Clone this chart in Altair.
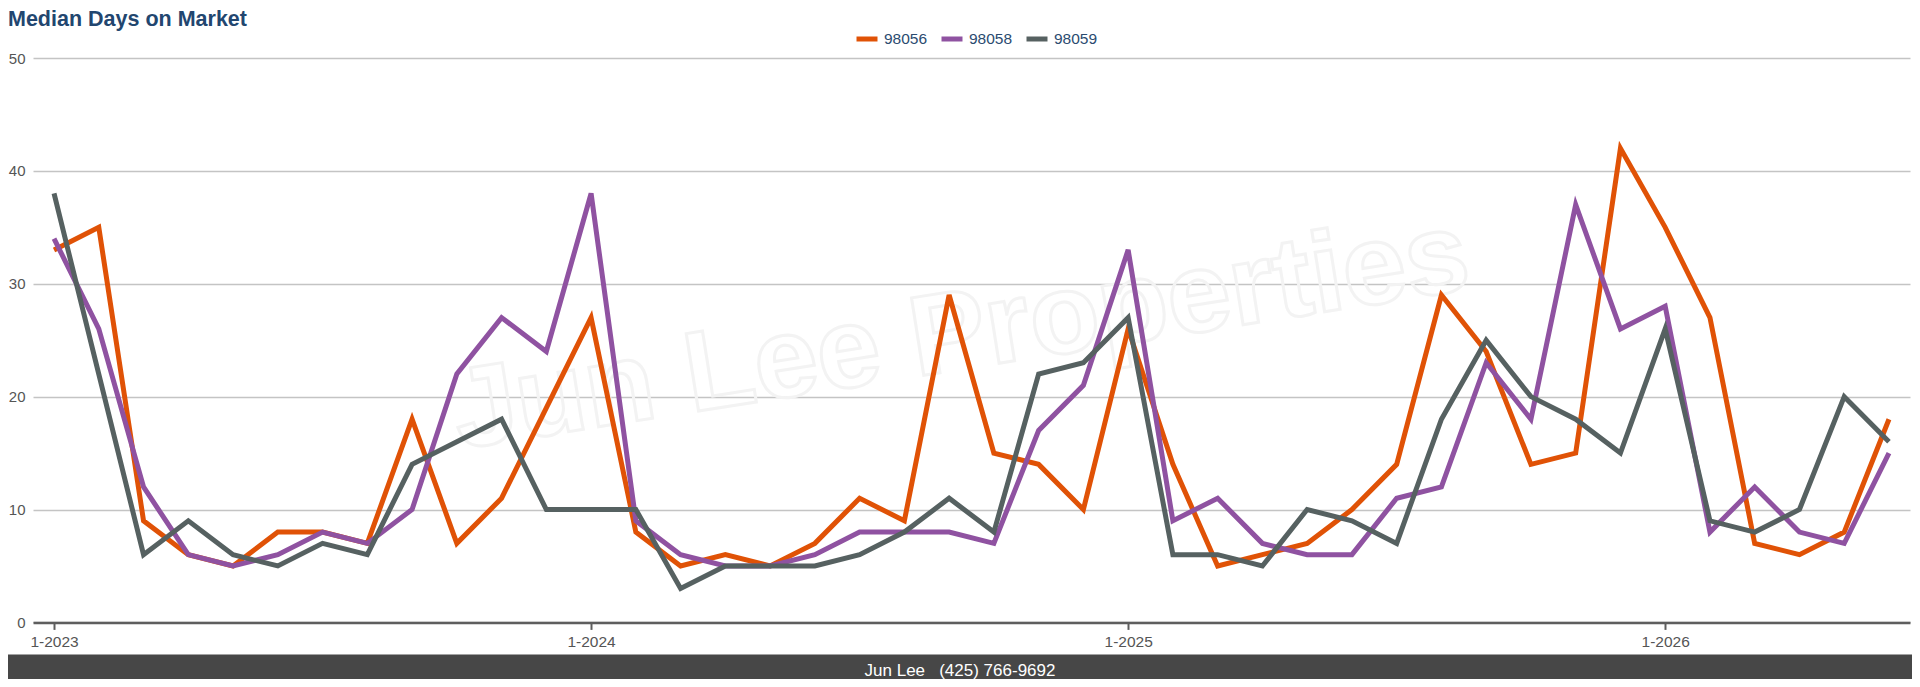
import altair as alt
import pandas as pd

# ---- data ----
months = [
    "1-2023", "2-2023", "3-2023", "4-2023", "5-2023", "6-2023", "7-2023", "8-2023", "9-2023", "10-2023", "11-2023", "12-2023",
    "1-2024", "2-2024", "3-2024", "4-2024", "5-2024", "6-2024", "7-2024", "8-2024", "9-2024", "10-2024", "11-2024", "12-2024",
    "1-2025", "2-2025", "3-2025", "4-2025", "5-2025", "6-2025", "7-2025", "8-2025", "9-2025", "10-2025", "11-2025", "12-2025",
    "1-2026", "2-2026", "3-2026", "4-2026", "5-2026", "6-2026",
]
zips = ["98056", "98058", "98059"]
days_98056 = [33, 35, 9, 6, 5, 8, 8, 7, 18, 7, 11, 19,
              27, 8, 5, 6, 5, 7, 11, 9, 29, 15, 14, 10,
              26, 14, 5, 6, 7, 10, 14, 29, 24, 14, 15, 42,
              35, 27, 7, 6, 8, 18]
days_98058 = [34, 26, 12, 6, 5, 6, 8, 7, 10, 22, 27, 24,
              38, 9, 6, 5, 5, 6, 8, 8, 8, 7, 17, 21,
              33, 9, 11, 7, 6, 6, 11, 12, 23, 18, 37, 26,
              28, 8, 12, 8, 7, 15]
days_98059 = [38, 22, 6, 9, 6, 5, 7, 6, 14, 16, 18, 10,
              10, 10, 3, 5, 5, 5, 6, 8, 11, 8, 22, 23,
              27, 6, 6, 5, 10, 9, 7, 18, 25, 20, 18, 15,
              26, 9, 8, 10, 20, 16]
year_ticks = ["1-2023", "1-2024", "1-2025", "1-2026"]
y_ticks = [0, 10, 20, 30, 40, 50]
colors = ["#e05206", "#8f52a1", "#566161"]

rows = []
for z, series in zip(zips, [days_98056, days_98058, days_98059]):
    for m, v in zip(months, series):
        rows.append({"month": m, "zip": z, "days": v})
df = pd.DataFrame(rows)

FONT = "Liberation Sans"
W, H = 1877, 564.4

lines = alt.Chart(df).mark_line(strokeWidth=5, strokeJoin="miter", strokeCap="butt").encode(
    x=alt.X("month:O", sort=months,
            scale=alt.Scale(type="point", padding=0.47),
            axis=alt.Axis(values=year_ticks, title=None, labelAngle=0, grid=False,
                          domain=True, domainColor="#5e5e5e", domainWidth=2.5,
                          ticks=True, tickColor="#5e5e5e", tickWidth=2, tickSize=7,
                          labelPadding=5, labelFontSize=15.5, labelColor="#555555",
                          labelFont=FONT)),
    y=alt.Y("days:Q", scale=alt.Scale(domain=[0, 50], nice=False),
            axis=alt.Axis(values=y_ticks, title=None, domain=False, ticks=False,
                          labelPadding=8, labelFontSize=15, labelColor="#555555",
                          labelFont=FONT, grid=True, gridColor="#c4c4c4", gridWidth=1.5)),
    color=alt.Color("zip:N", scale=alt.Scale(domain=zips, range=colors),
                    legend=alt.Legend(title=None, orient="none", direction="horizontal",
                                      legendX=821, legendY=-32, symbolType="stroke",
                                      symbolSize=441, symbolStrokeWidth=5,
                                      labelFontSize=15.5, labelFont=FONT, labelColor="#2b4b70",
                                      labelOffset=4, columnPadding=3, padding=0)),
)

watermark = alt.Chart(pd.DataFrame({"t": ["Jun Lee Properties"]})).mark_text(
    angle=351, fontSize=114, font=FONT, fontWeight="bold", fill="#ffffff", fillOpacity=0,
    stroke="#f3f3f3", strokeWidth=3, align="center", baseline="middle"
).encode(x=alt.value(928), y=alt.value(277), text="t:N")

title = alt.Chart(pd.DataFrame({"t": ["Median Days on Market"]})).mark_text(
    fontSize=21.5, font=FONT, fontWeight="bold", color="#22466f",
    align="left", baseline="alphabetic"
).encode(x=alt.value(-25), y=alt.value(-32.5), text="t:N")

footer_bar = alt.Chart(pd.DataFrame({"t": [1]})).mark_rect(color="#474747").encode(
    x=alt.value(-25), x2=alt.value(1879), y=alt.value(596.4), y2=alt.value(630)
)
footer_text = alt.Chart(pd.DataFrame({"t": ["Jun Lee\u00a0\u00a0\u00a0(425) 766-9692"]})).mark_text(
    color="#ffffff", fontSize=17, font=FONT, align="center", baseline="middle"
).encode(x=alt.value(927), y=alt.value(613), text="t:N")

chart = alt.layer(watermark, lines, title, footer_bar, footer_text).properties(
    width=W, height=H,
    padding={"left": 25, "top": 50, "right": 2, "bottom": 56.6},
    autosize=alt.AutoSizeParams(type="none"),
    background="#ffffff",
).configure_view(
    stroke="transparent", strokeWidth=0
).configure_axisY(domain=False, ticks=False)

chart.save("out.html", embed_options={"renderer": "svg", "actions": False})
